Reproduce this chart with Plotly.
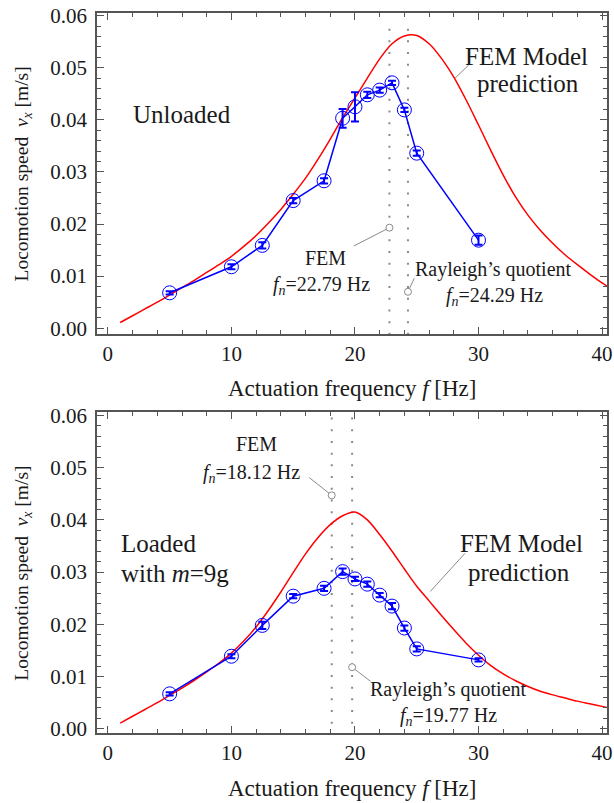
import plotly.graph_objects as go

# ---------------- data ----------------
freq = [5, 10, 12.5, 15, 17.5, 19, 20, 21, 22, 23, 24, 25, 30]

speed_unloaded = [0.0068, 0.0118, 0.0159, 0.0245, 0.0283, 0.0403, 0.0425,
                  0.0448, 0.0457, 0.0471, 0.0419, 0.0336, 0.0169]
err_unloaded = [0.0003, 0.0005, 0.0006, 0.0005, 0.0005, 0.0018, 0.0028,
                0.0006, 0.0005, 0.0004, 0.0004, 0.0005, 0.0009]

speed_loaded = [0.0067, 0.0139, 0.0198, 0.0254, 0.0269, 0.0301, 0.0287,
                0.0277, 0.0256, 0.0235, 0.0193, 0.0153, 0.0132]
err_loaded = [0.0003, 0.0004, 0.0007, 0.0004, 0.0005, 0.0006, 0.0004,
              0.0005, 0.0004, 0.0006, 0.0005, 0.0005, 0.0003]

fem_f = [1, 2, 3, 4, 5, 6, 7, 8, 9, 10, 11, 12, 13, 14, 15, 16, 17, 18, 19, 20,
         21, 22, 23, 24, 25, 26, 27, 28, 29, 30, 31, 32, 33, 34, 35, 36, 37, 38,
         39, 40, 40.4]
fem_v_unloaded = [0.0011, 0.0024, 0.0037, 0.0050, 0.0064, 0.0078, 0.0092, 0.0107,
                  0.0122, 0.0138, 0.0157, 0.0178, 0.0202, 0.0228, 0.0257, 0.0288,
                  0.0324, 0.0363, 0.0404, 0.0442, 0.0480, 0.0517, 0.0546, 0.0561,
                  0.0562, 0.0546, 0.0518, 0.0482, 0.0438, 0.0390, 0.0341, 0.0294,
                  0.0252, 0.0217, 0.0188, 0.0163, 0.0141, 0.0122, 0.0104, 0.0087,
                  0.0081]
fem_v_loaded = [0.0011, 0.0024, 0.0037, 0.0050, 0.0064, 0.0078, 0.0093, 0.0109,
                0.0126, 0.0145, 0.0168, 0.0195, 0.0227, 0.0262, 0.0299, 0.0335,
                0.0366, 0.0391, 0.0408, 0.0415, 0.0400, 0.0372, 0.0340, 0.0306,
                0.0273, 0.0245, 0.0217, 0.0190, 0.0164, 0.0141, 0.0121, 0.0105,
                0.0092, 0.0081, 0.0072, 0.0065, 0.0059, 0.0053, 0.0048, 0.0043,
                0.0041]

fn_unloaded = [22.79, 24.29]   # FEM, Rayleigh's quotient
fn_loaded = [18.12, 19.77]

x_ticks = [0, 10, 20, 30, 40]
y_ticks = [0.00, 0.01, 0.02, 0.03, 0.04, 0.05, 0.06]
y_tick_text = ["0.00", "0.01", "0.02", "0.03", "0.04", "0.05", "0.06"]

# ---------------- styling ----------------
FONT = "Liberation Serif"
BLUE = "#0000ff"
RED = "#ff0000"
GRAY = "#8a8a8a"
FRAME = "#555555"
TXT = "#1a1a1a"

fig = go.Figure()

panels = [
    dict(xa="x", ya="y", speed=speed_unloaded, err=err_unloaded,
         fv=fem_v_unloaded, fn=fn_unloaded, vtop=0.0575, ymin=-0.0011),
    dict(xa="x2", ya="y2", speed=speed_loaded, err=err_loaded,
         fv=fem_v_loaded, fn=fn_loaded, vtop=0.0596, ymin=-0.0008),
]

for p in panels:
    # dotted natural-frequency lines
    for f in p["fn"]:
        fig.add_trace(go.Scatter(x=[f, f], y=[p["vtop"], p["ymin"]], mode="lines",
                                 line=dict(color=GRAY, width=2, dash="2px,9.7px"),
                                 xaxis=p["xa"], yaxis=p["ya"], showlegend=False,
                                 hoverinfo="skip"))
    # FEM model curve
    fig.add_trace(go.Scatter(x=fem_f, y=p["fv"], mode="lines",
                             line=dict(color=RED, width=1.5, shape="spline", smoothing=0.8),
                             xaxis=p["xa"], yaxis=p["ya"], showlegend=False))
    # measurements
    fig.add_trace(go.Scatter(x=freq, y=p["speed"], mode="lines+markers",
                             line=dict(color=BLUE, width=1.5),
                             marker=dict(symbol="circle-open", size=14, color=BLUE,
                                         line=dict(width=1, color=BLUE)),
                             error_y=dict(type="data", array=p["err"], color=BLUE,
                                          thickness=2, width=4),
                             xaxis=p["xa"], yaxis=p["ya"], showlegend=False))

# leader lines (gray) : (x0, y0, x1, y1, axis suffix)
leaders = [
    (28.1, 0.0480, 29.2, 0.0505, ""),
    (fn_unloaded[0], 0.0193, 19.92, 0.0158, ""),
    (fn_unloaded[1], 0.0070, 24.8, 0.0096, ""),
    (26.1, 0.0263, 28.9, 0.0336, "2"),
    (fn_loaded[0], 0.0447, 16.3, 0.0481, "2"),
    (fn_loaded[1], 0.0118, 21.26, 0.0091, "2"),
]
for x0, y0, x1, y1, s in leaders:
    fig.add_trace(go.Scatter(x=[x0, x1], y=[y0, y1], mode="lines",
                             line=dict(color=GRAY, width=1),
                             xaxis="x" + s, yaxis="y" + s, showlegend=False,
                             hoverinfo="skip"))

# small circles marking natural frequencies
circ = [(fn_unloaded, [0.0193, 0.0070], ""), (fn_loaded, [0.0447, 0.0118], "2")]
for xs, ys, s in circ:
    fig.add_trace(go.Scatter(x=xs, y=ys, mode="markers",
                             marker=dict(symbol="circle", size=7, color="white",
                                         line=dict(color=GRAY, width=1)),
                             xaxis="x" + s, yaxis="y" + s, showlegend=False))

fn_txt = "<i>f</i><sub><i>n</i></sub>="
BIG, SMALL = 25, 20
ann = [
    # top panel
    ("Unloaded", 1.87, 0.0411, "", BIG, "left"),
    ("FEM Model", 33.9, 0.0521, "", BIG, "center"),
    ("prediction", 34.0, 0.0469, "", BIG, "center"),
    ("FEM", 17.6, 0.0135, "", SMALL, "center"),
    (fn_txt + f"{fn_unloaded[0]:.2f} Hz", 17.3, 0.0083, "", SMALL, "center"),
    ("Rayleigh’s quotient", 31.2, 0.0113, "", SMALL, "center"),
    (fn_txt + f"{fn_unloaded[1]:.2f} Hz", 31.3, 0.0061, "", SMALL, "center"),
    # bottom panel
    ("Loaded", 0.88, 0.0354, "2", BIG, "left"),
    ("with <i>m</i>=9g", 0.88, 0.0298, "2", BIG, "left"),
    ("FEM Model", 33.5, 0.0354, "2", BIG, "center"),
    ("prediction", 33.3, 0.0299, "2", BIG, "center"),
    ("FEM", 12.0, 0.0546, "2", SMALL, "center"),
    (fn_txt + f"{fn_loaded[0]:.2f} Hz", 11.6, 0.0489, "2", SMALL, "center"),
    ("Rayleigh’s quotient", 27.6, 0.0075, "2", SMALL, "center"),
    (fn_txt + f"{fn_loaded[1]:.2f} Hz", 27.6, 0.0024, "2", SMALL, "center"),
]
annotations = []
for t, x, y, s, sz, xa in ann:
    annotations.append(dict(text=t, x=x, y=y, xref="x" + s, yref="y" + s,
                            xanchor=xa, yanchor="middle", showarrow=False,
                            font=dict(family=FONT, size=sz, color=TXT)))

ytitle = "Locomotion speed  <i>v</i><sub><i>x</i></sub> [m/s]"
xtitle = "Actuation frequency <i>f</i> [Hz]"
for yy in (0.777, 0.2226):
    annotations.append(dict(text=ytitle, x=-0.1453, y=yy, xref="paper", yref="paper",
                            xanchor="center", yanchor="middle", textangle=-90,
                            showarrow=False, font=dict(family=FONT, size=19.5, color=TXT)))
for yy in (0.479, -0.0764):
    annotations.append(dict(text=xtitle, x=0.5, y=yy, xref="paper", yref="paper",
                            xanchor="center", yanchor="middle", showarrow=False,
                            font=dict(family=FONT, size=23, color=TXT)))


def xaxis(anchor):
    return dict(range=[-0.88, 40.4], tickvals=x_ticks, ticks="inside", ticklen=7,
                tickwidth=1.2, tickcolor=FRAME, showline=True, linecolor=FRAME,
                linewidth=1.5, mirror="allticks", showgrid=False, zeroline=False,
                anchor=anchor, domain=[0, 1], ticklabelstandoff=0,
                ticklabeloverflow="allow",
                minor=dict(dtick=2, ticks="inside", ticklen=4, tickcolor=FRAME,
                           tickwidth=1, showgrid=False),
                tickfont=dict(family=FONT, size=21, color=TXT))


def yaxis(anchor, rng, dom):
    return dict(range=rng, tickvals=y_ticks, ticktext=y_tick_text, ticks="inside",
                ticklen=7, tickwidth=1.2, tickcolor=FRAME, showline=True,
                linecolor=FRAME, linewidth=1.5, mirror="allticks", showgrid=False,
                zeroline=False, anchor=anchor, domain=dom, ticklabelstandoff=4,
                minor=dict(dtick=0.002, ticks="inside", ticklen=4, tickcolor=FRAME,
                           tickwidth=1, showgrid=False),
                tickfont=dict(family=FONT, size=21, color=TXT))


fig.update_layout(
    width=614, height=803,
    margin=dict(l=97, r=1, t=13, b=70),
    paper_bgcolor="white", plot_bgcolor="white",
    xaxis=xaxis("y"),
    yaxis=yaxis("x", [-0.0011, 0.0605], [0.5542, 1.0]),
    xaxis2=xaxis("y2"),
    yaxis2=yaxis("x2", [-0.0008, 0.0606], [0.0, 0.4454]),
    annotations=annotations,
    showlegend=False,
)

fig.write_html("out.html", config={"displayModeBar": False},
               post_script="document.body.style.margin='0';"
                           "document.body.style.overflow='hidden';")
